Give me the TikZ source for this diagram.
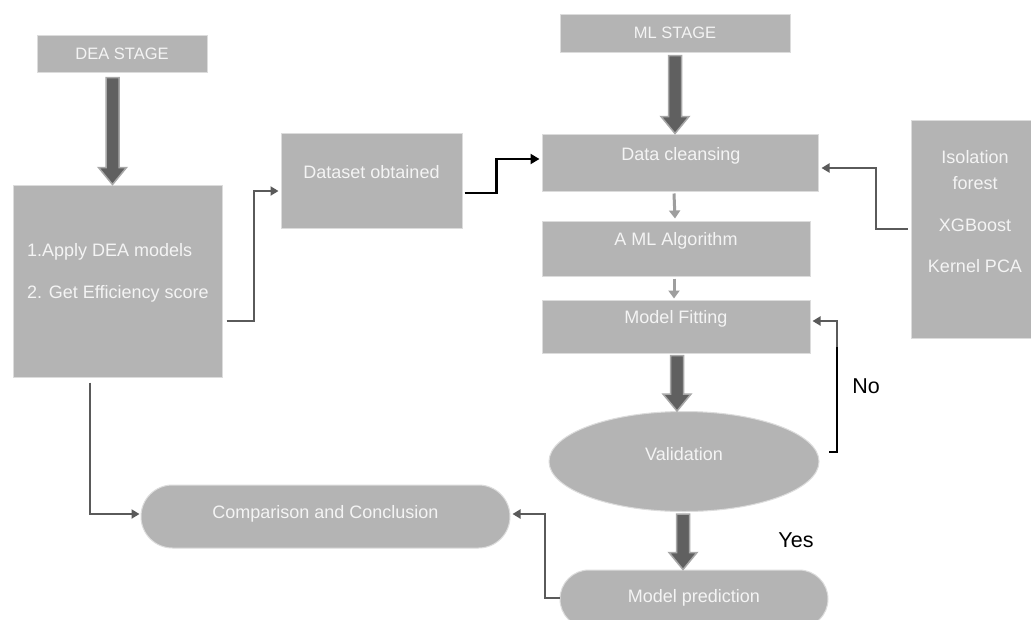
\documentclass[tikz,border=0pt]{standalone}
\usepackage{fontspec}
\setmainfont{Liberation Sans}
\usetikzlibrary{arrows.meta,shapes.misc,shapes.geometric,calc}
\definecolor{boxfill}{HTML}{B4B4B4}
\definecolor{boxline}{HTML}{DCDCDC}
\definecolor{txtc}{HTML}{F4F4F4}
\definecolor{conc}{HTML}{5A5A5A}
\definecolor{fatc}{HTML}{606060}
\definecolor{fatl}{HTML}{A8A8A8}
\definecolor{lightc}{HTML}{9E9E9E}
\newcommand\fatarrow[2]{\filldraw[fat] let \p1=(#1), \p2=(#2) in
  (\x1-6.5pt,\y1) -- (\x1-6.5pt,\y2+17pt) -- (\x1-14pt,\y2+17pt) -- (\x1,\y2)
  -- (\x1+14pt,\y2+17pt) -- (\x1+6.5pt,\y2+17pt) -- (\x1+6.5pt,\y1) -- cycle;}
\begin{document}
\begin{tikzpicture}[x=1pt,y=-1pt,
  box/.style={fill=boxfill,draw=boxline,line width=1pt,inner sep=0pt,text=txtc,font=\fontsize{18}{21}\selectfont},
  stagebox/.style={box,font=\fontsize{16.5}{19}\selectfont},
  stad/.style={box,rounded rectangle},
  oval/.style={box,ellipse},
  txt/.style={text=txtc,font=\fontsize{18}{21}\selectfont,inner sep=0pt},
  lbl/.style={text=black,font=\fontsize{21.5}{25}\selectfont,inner sep=0pt},
  conn/.style={draw=conc,line width=2pt,-{Triangle[width=9pt,length=8pt]}},
  blk/.style={draw=black,line width=2.2pt,-{Triangle[width=10pt,length=9pt]}},
  thin/.style={draw=lightc,line width=3pt,-{Triangle[width=11pt,length=8pt]}},
  fat/.style={fill=fatc,draw=fatl,line width=1.5pt,line join=miter},
]
\clip (0,0) rectangle (1031,619);
\fill[white] (0,0) rectangle (1031,619);

% boxes
\node[stagebox,minimum width=170pt,minimum height=37pt] (dea) at (122,53.5) {DEA STAGE};
\node[box,minimum width=209pt,minimum height=192pt] (big) at (117.5,281) {};
\node[txt,anchor=west] (t1) at (27,252) {1.Apply DEA models};
\node[txt,anchor=west] (t2) at (27,294) {2. Get Efficiency score};
\node[box,minimum width=181pt,minimum height=95pt] (ds) at (371.5,180.5) {};
\node[txt] (dst) at (371.5,172) {Dataset obtained};

\node[stagebox,minimum width=230pt,minimum height=38pt] (ml) at (675,33) {ML STAGE};
\node[box,minimum width=276pt,minimum height=57pt] (dc) at (680,162.5) {};
\node[txt] (dct) at (681,156) {Data cleansing};
\node[box,minimum width=268pt,minimum height=55pt] (alg) at (676,248.5) {};
\node[txt] (algt) at (676,241) {A ML Algorithm};
\node[box,minimum width=268pt,minimum height=53pt] (fit) at (676,326.5) {};
\node[txt] (fitt) at (676,319) {Model Fitting};
\node[oval,minimum width=270pt,minimum height=100pt] (val) at (684,461.5) {};
\node[txt] (valt) at (684,454) {Validation};
\node[stad,minimum width=268pt,minimum height=58pt] (pred) at (694,599) {};
\node[txt] (predt) at (694,598) {Model prediction};
\node[stad,minimum width=369pt,minimum height=63pt] (cmp) at (325.5,516.5) {};
\node[txt] (cmpt) at (325.5,514) {Comparison and Conclusion};

\node[box,minimum width=129pt,minimum height=218pt] (iso) at (975.5,229) {};
\node[txt] (i1) at (975,157) {Isolation};
\node[txt] (i2) at (975,183) {forest};
\node[txt] (i3) at (975,225) {XGBoost};
\node[txt] (i4) at (975,266) {Kernel PCA};

\node[lbl] (no) at (866,386) {No};
\node[lbl] (yes) at (796,540) {Yes};

% fat arrows
\fatarrow{[xshift=-9.5pt,yshift=-5pt]dea.south}{big.north}
\fatarrow{[yshift=-3pt]ml.south}{dc.north}
\fatarrow{[xshift=1pt,yshift=-2pt]fit.south}{val.north}
\fatarrow{[xshift=-1pt,yshift=-2pt]val.south}{pred.north}

% thin gray arrows
\draw[thin] ([xshift=-6pt,yshift=-2pt]dc.south) -- ([xshift=-1pt,yshift=2pt]alg.north);
\draw[thin] ([xshift=-2pt,yshift=-2pt]alg.south) -- ([xshift=-2pt,yshift=1pt]fit.north);

% connectors
\draw[conn] ([xshift=4pt,yshift=-40pt]big.east) -- ++(27,0) |- ([xshift=-2pt,yshift=-10.5pt]ds.west);
\draw[blk] ([xshift=2pt,yshift=-12.5pt]ds.east) -- ++(32,0) |- ([xshift=-2pt,yshift=3.5pt]dc.west);
\draw[conn] ([xshift=-3pt]iso.west) -- ++(-32,0) |- ([xshift=3pt,yshift=-5.5pt]dc.east);
\draw[conn] ([xshift=-27.5pt,yshift=-5pt]big.south) |- ([xshift=-1pt,yshift=2.5pt]cmp.west);
\draw[conn] ([yshift=1pt]pred.west) -- ++(-15,0) |- ([xshift=2pt,yshift=2.5pt]cmp.east);

\coordinate (nostart) at (829,452);
\coordinate (nomid) at (837,344);
\draw[draw=black,line width=2.2pt] (nostart) -- (837,452) -- (nomid);
\draw[draw=conc,line width=2pt,-{Triangle[width=9pt,length=8pt]}] ([yshift=-3pt]nomid) |- ([xshift=2pt,yshift=5.5pt]fit.east);
\end{tikzpicture}
\end{document}
